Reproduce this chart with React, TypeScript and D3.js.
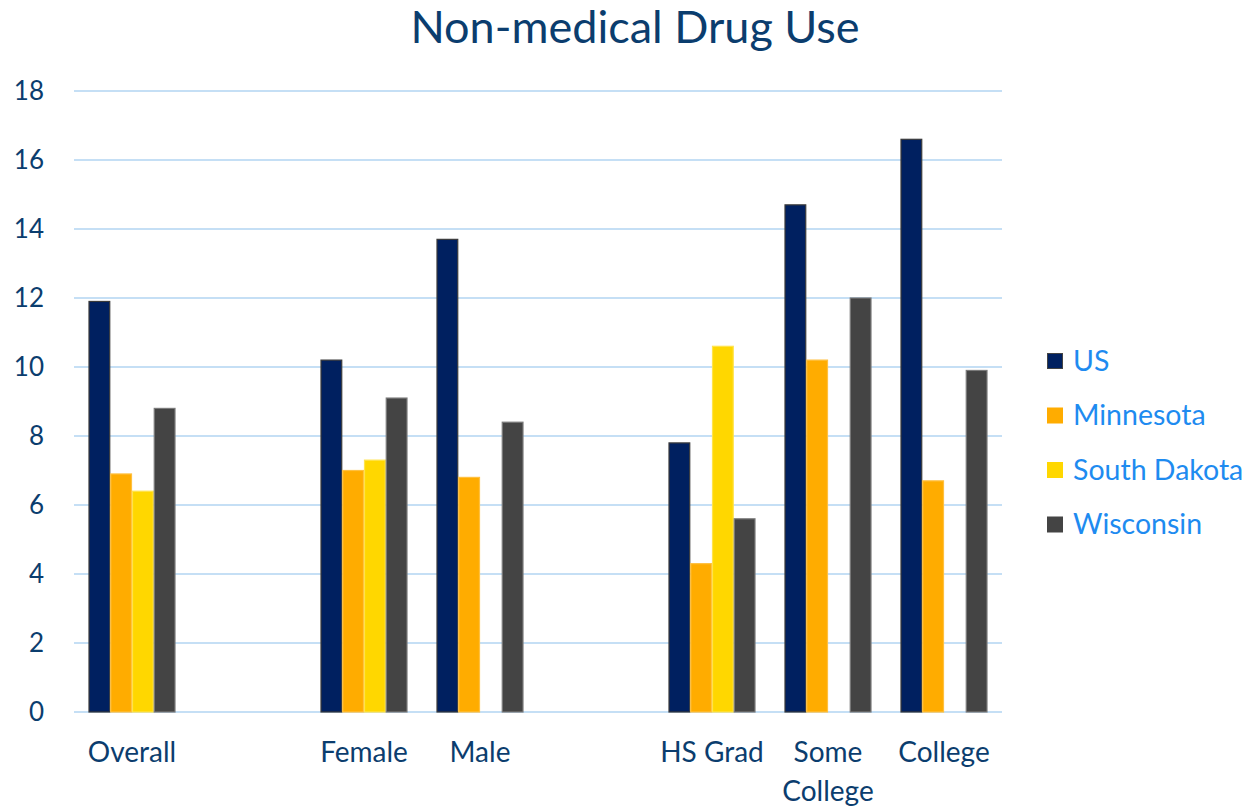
import React from "react";
import * as d3 from "d3";

// Category slots (blank slots separate the groups)
const categories = ["Overall", "", "Female", "Male", " ", "HS Grad", "Some College", "College"];
const seriesNames = ["US", "Minnesota", "South Dakota", "Wisconsin"];
const seriesColors = ["#002060", "#FFAC00", "#FFD700", "#444444"];
const seriesStrokes = ["#3a3a3a", "#FFC040", "#FFE34D", "#7a7a7a"];

// Values per series, aligned with categories (null = no bar)
const usValues = [11.9, null, 10.2, 13.7, null, 7.8, 14.7, 16.6];
const minnesotaValues = [6.9, null, 7.0, 6.8, null, 4.3, 10.2, 6.7];
const southDakotaValues = [6.4, null, 7.3, null, null, 10.6, null, null];
const wisconsinValues = [8.8, null, 9.1, 8.4, null, 5.6, 12.0, 9.9];

const yTicks = [0, 2, 4, 6, 8, 10, 12, 14, 16, 18];

const W = 1252;
const H = 809;
const FONT = "Lato, 'Open Sans', sans-serif";

export default function App() {
  const left = 74;
  const right = 1002;
  const top = 91;
  const bottom = 712;

  const x0 = d3
    .scaleBand<string>()
    .domain(categories)
    .range([left, right])
    .paddingInner(0.25)
    .paddingOuter(0.125);
  const x1 = d3
    .scaleBand<string>()
    .domain(seriesNames)
    .range([0, x0.bandwidth()]);
  const y = d3.scaleLinear().domain([0, 18]).range([bottom, top]);

  const allSeries = [usValues, minnesotaValues, southDakotaValues, wisconsinValues];

  return (
    <svg width={W} height={H} style={{ position: "absolute", left: 0, top: 0, background: "#fff" }}>
      <rect width={W} height={H} fill="#fff" />
      <text
        x={635}
        y={43}
        textAnchor="middle"
        fontFamily={FONT}
        fontSize={45}
        fill="#0B3D6E"
      >
        Non-medical Drug Use
      </text>

      {/* gridlines */}
      {yTicks.map((t) => (
        <line
          key={t}
          x1={left}
          x2={right}
          y1={y(t)}
          y2={y(t)}
          stroke="#C5DFF5"
          strokeWidth={2}
        />
      ))}

      {/* y tick labels */}
      {yTicks.map((t) => (
        <text
          key={"l" + t}
          x={44}
          y={y(t)}
          dy="0.35em"
          textAnchor="end"
          fontFamily={FONT}
          fontSize={26}
          fill="#0B3D6E"
        >
          {t}
        </text>
      ))}

      {/* bars */}
      {categories.map((c, ci) => (
        <g key={"g" + ci} transform={`translate(${x0(c)},0)`}>
          {allSeries.map((vals, si) => {
            const v = vals[ci];
            if (v == null) return null;
            return (
              <rect
                key={si}
                x={x1(seriesNames[si])! + 0.5}
                y={y(v)}
                width={x1.bandwidth() - 1}
                height={y(0) - y(v)}
                fill={seriesColors[si]}
                stroke={seriesStrokes[si]}
                strokeWidth={1.2}
              />
            );
          })}
        </g>
      ))}

      {/* x labels */}
      {categories.map((c, ci) => {
        if (!c.trim()) return null;
        const cx = x0(c)! + x0.bandwidth() / 2;
        const words = c === "Some College" ? ["Some", "College"] : [c];
        return (
          <text
            key={"x" + ci}
            textAnchor="middle"
            fontFamily={FONT}
            fontSize={28}
            fill="#0B3D6E"
          >
            {words.map((w, wi) => (
              <tspan key={wi} x={cx} y={762 + wi * 39}>
                {w}
              </tspan>
            ))}
          </text>
        );
      })}

      {/* legend */}
      {seriesNames.map((s, si) => (
        <g key={"lg" + si} transform={`translate(1047, ${361 + si * 54.5})`}>
          <rect
            x={0.5}
            y={-7.5}
            width={15}
            height={15}
            fill={seriesColors[si]}
            stroke={si === 0 ? "#444" : seriesColors[si]}
            strokeWidth={1}
          />
          <text x={26} y={0} dy="0.35em" fontFamily={FONT} fontSize={28.5} fill="#1E8BF0">
            {s}
          </text>
        </g>
      ))}
    </svg>
  );
}
